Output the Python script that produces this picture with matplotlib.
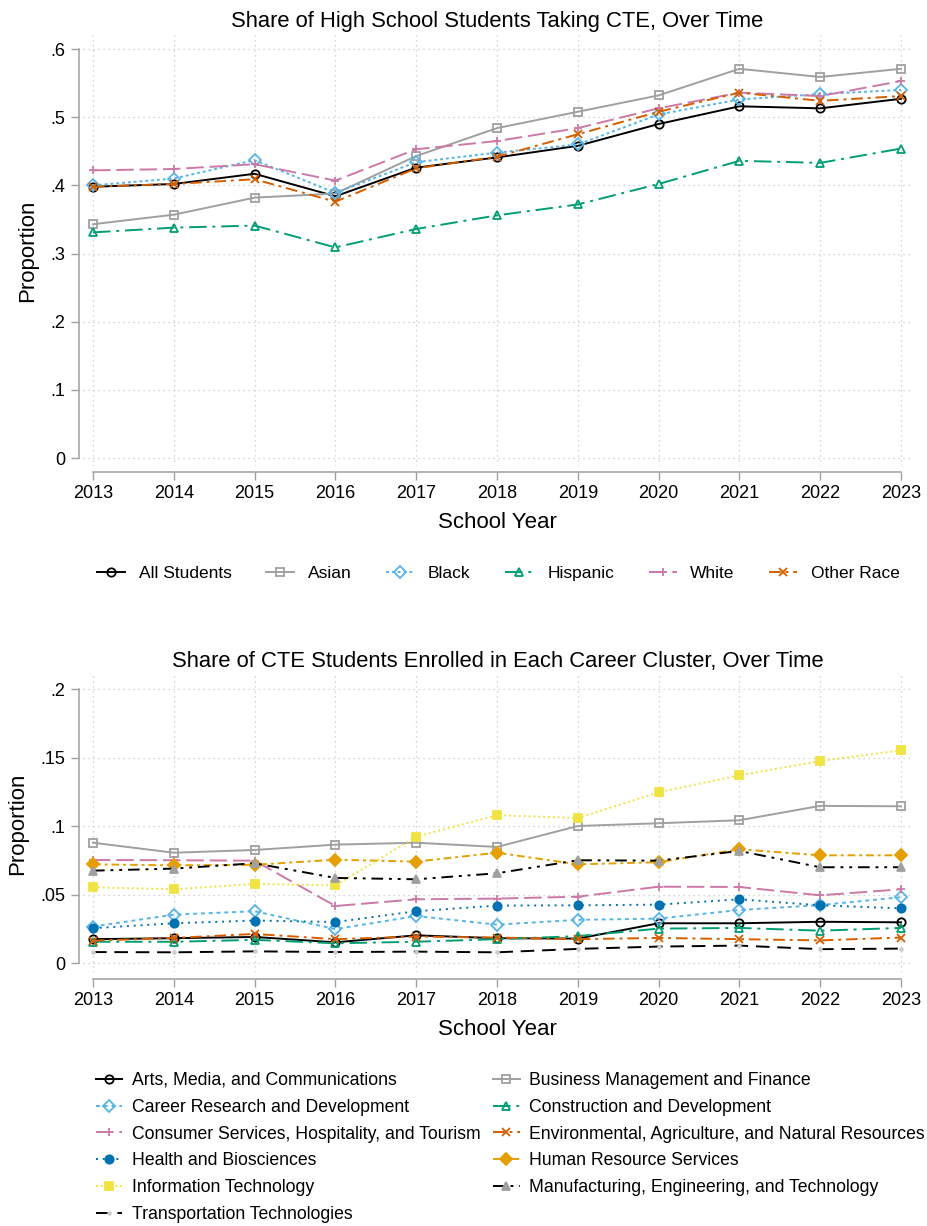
import matplotlib
matplotlib.use("Agg")
import matplotlib.pyplot as plt

plt.rcParams["font.family"] = ["Liberation Sans", "DejaVu Sans"]

years = list(range(2013, 2024))

# Share of high school students taking CTE, by race
race_labels = ["All Students", "Asian", "Black", "Hispanic", "White", "Other Race"]
all_students = [0.398, 0.402, 0.417, 0.384, 0.426, 0.441, 0.458, 0.490, 0.516, 0.513, 0.527]
asian = [0.343, 0.357, 0.382, 0.388, 0.443, 0.484, 0.508, 0.532, 0.571, 0.559, 0.571]
black = [0.400, 0.410, 0.437, 0.389, 0.434, 0.448, 0.460, 0.504, 0.526, 0.534, 0.540]
hispanic = [0.331, 0.338, 0.341, 0.309, 0.336, 0.356, 0.372, 0.402, 0.436, 0.433, 0.454]
white = [0.422, 0.424, 0.431, 0.407, 0.453, 0.465, 0.484, 0.513, 0.536, 0.531, 0.553]
other_race = [0.398, 0.402, 0.409, 0.376, 0.425, 0.442, 0.475, 0.508, 0.536, 0.524, 0.531]
race_series = [all_students, asian, black, hispanic, white, other_race]

# Share of CTE students in each career cluster
cluster_labels = [
    "Arts, Media, and Communications",
    "Business Management and Finance",
    "Career Research and Development",
    "Construction and Development",
    "Consumer Services, Hospitality, and Tourism",
    "Environmental, Agriculture, and Natural Resources",
    "Health and Biosciences",
    "Human Resource Services",
    "Information Technology",
    "Manufacturing, Engineering, and Technology",
    "Transportation Technologies",
]
arts = [0.0176, 0.0183, 0.0192, 0.0153, 0.0204, 0.0183, 0.0180, 0.0292, 0.0292, 0.0303, 0.0299]
business = [0.0880, 0.0807, 0.0827, 0.0866, 0.0880, 0.0849, 0.1002, 0.1022, 0.1044, 0.1149, 0.1146]
career = [0.0268, 0.0355, 0.0380, 0.0249, 0.0345, 0.0282, 0.0317, 0.0326, 0.0389, 0.0425, 0.0482]
construction = [0.0157, 0.0157, 0.0171, 0.0146, 0.0157, 0.0176, 0.0198, 0.0253, 0.0258, 0.0238, 0.0258]
consumer = [0.0754, 0.0752, 0.0749, 0.0418, 0.0467, 0.0472, 0.0486, 0.0559, 0.0557, 0.0496, 0.0540]
environmental = [0.0165, 0.0185, 0.0214, 0.0176, 0.0195, 0.0188, 0.0176, 0.0185, 0.0176, 0.0167, 0.0188]
health = [0.0256, 0.0292, 0.0312, 0.0301, 0.0380, 0.0421, 0.0423, 0.0428, 0.0467, 0.0423, 0.0401]
human_resource = [0.0722, 0.0715, 0.0719, 0.0756, 0.0742, 0.0807, 0.0722, 0.0738, 0.0832, 0.0788, 0.0788]
info_tech = [0.0555, 0.0540, 0.0579, 0.0569, 0.0924, 0.1081, 0.1060, 0.1248, 0.1372, 0.1476, 0.1555]
manufacturing = [0.0676, 0.0691, 0.0730, 0.0623, 0.0613, 0.0657, 0.0752, 0.0749, 0.0820, 0.0701, 0.0701]
transportation = [0.0082, 0.0080, 0.0087, 0.0082, 0.0085, 0.0080, 0.0105, 0.0122, 0.0129, 0.0103, 0.0107]
cluster_series = [arts, business, career, construction, consumer, environmental,
                  health, human_resource, info_tech, manufacturing, transportation]

GRAY = "#a0a0a0"
LB = "#56b4e9"
GREEN = "#009e73"
PINK = "#cc79a7"
VERM = "#d55e00"
BLUE = "#0072b2"
ORANGE = "#e69f00"
YELLOW = "#f0e442"

# (color, linestyle, marker, filled, markerfacecolor)
race_styles = [
    ("black", "-", "o", False, None),
    (GRAY, "-", "s", False, None),
    (LB, (0, (1.5, 1.5)), "D", False, None),
    (GREEN, (0, (9, 3, 1.5, 3)), "^", False, None),
    (PINK, (0, (9, 3)), "+", True, None),
    (VERM, (0, (6, 2.5, 1.5, 2.5)), "x", True, None),
]
cluster_styles = [
    ("black", "-", "o", False, None),
    (GRAY, "-", "s", False, None),
    (LB, (0, (2, 2)), "D", False, None),
    (GREEN, (0, (9, 3, 1.5, 3)), "^", False, None),
    (PINK, (0, (9, 3)), "+", True, None),
    (VERM, (0, (6, 2.5, 1.5, 2.5)), "x", True, None),
    (BLUE, (0, (1, 2.5)), "o", True, BLUE),
    (ORANGE, (0, (4, 2, 1.5, 2)), "D", True, ORANGE),
    (YELLOW, (0, (1, 1.5)), "s", True, YELLOW),
    ("black", (0, (6, 3, 1.5, 3, 1.5, 3)), "^", True, GRAY),
    ("black", (0, (7, 4)), ".", True, "#cccccc"),
]


def draw_lines(ax, series, labels, styles, ms):
    handles = []
    for y, lab, (c, ls, mk, filled, mfc) in zip(series, labels, styles):
        kw = dict(color=c, linestyle=ls, linewidth=1.4, marker=mk, markersize=ms,
                  markeredgewidth=1.3, label=lab)
        if not filled:
            kw["markerfacecolor"] = "none"
        elif mfc is not None:
            kw["markerfacecolor"] = mfc
            kw["markeredgecolor"] = mfc
        if mk == ".":
            kw["markersize"] = 4
        h, = ax.plot(years, y, **kw)
        handles.append(h)
    return handles


def style_axes(ax, yticks, ylabels, ylim, bottom_offset):
    ax.set_xlim(2012.876, 2023.136)
    ax.set_ylim(*ylim)
    ax.set_xticks(years)
    ax.set_yticks(yticks)
    ax.set_yticklabels(ylabels)
    ax.grid(True, color="#c8c8c8", linestyle=(0, (1, 3)), linewidth=0.9)
    for s in ("top", "right"):
        ax.spines[s].set_visible(False)
    for s in ("left", "bottom"):
        ax.spines[s].set_color(GRAY)
        ax.spines[s].set_linewidth(1.1)
    ax.spines["left"].set_position(("outward", 2.9))
    ax.spines["bottom"].set_position(("outward", bottom_offset))
    ax.spines["left"].set_bounds(yticks[0], yticks[-1])
    ax.spines["bottom"].set_bounds(years[0], years[-1])
    ax.tick_params(length=5.5, width=1.0, color=GRAY, labelsize=13, pad=4)
    ax.set_xlabel("School Year", fontsize=16, labelpad=7)
    ax.set_ylabel("Proportion", fontsize=16, labelpad=9)


fig = plt.figure(figsize=(9.27, 12.26), dpi=100)
ax1 = fig.add_axes([0.0895, 0.6199, 0.8943, 0.3515])
ax2 = fig.add_axes([0.0895, 0.2072, 0.8943, 0.2422])

h1 = draw_lines(ax1, race_series, race_labels, race_styles, 6)
style_axes(ax1, [0, 0.1, 0.2, 0.3, 0.4, 0.5, 0.6], ["0", ".1", ".2", ".3", ".4", ".5", ".6"],
           (-0.0117, 0.6205), 4.3)
ax1.set_title("Share of High School Students Taking CTE, Over Time", fontsize=15.8, pad=6)

h2 = draw_lines(ax2, cluster_series, cluster_labels, cluster_styles, 6)
style_axes(ax2, [0, 0.05, 0.1, 0.15, 0.2], ["0", ".05", ".1", ".15", ".2"],
           (-0.00635, 0.2104), 5.0)
ax2.set_title("Share of CTE Students Enrolled in Each Career Cluster, Over Time",
              fontsize=15.8, pad=6)

fig.legend(handles=h1, loc="center", bbox_to_anchor=(0.5378, 0.5326), ncol=6,
           frameon=False, fontsize=12.5, handlelength=1.6, handletextpad=0.8,
           columnspacing=2.0, borderpad=0, borderaxespad=0)

order = [0, 2, 4, 6, 8, 10, 1, 3, 5, 7, 9]
fig.legend(handles=[h2[i] for i in order], loc="center left",
           bbox_to_anchor=(96 / 927, 0.064), ncol=2, frameon=False, fontsize=12.7,
           handlelength=1.5, handletextpad=0.55, columnspacing=0.7,
           labelspacing=0.56, borderpad=0, borderaxespad=0)

fig.savefig("out.png", dpi=100)
